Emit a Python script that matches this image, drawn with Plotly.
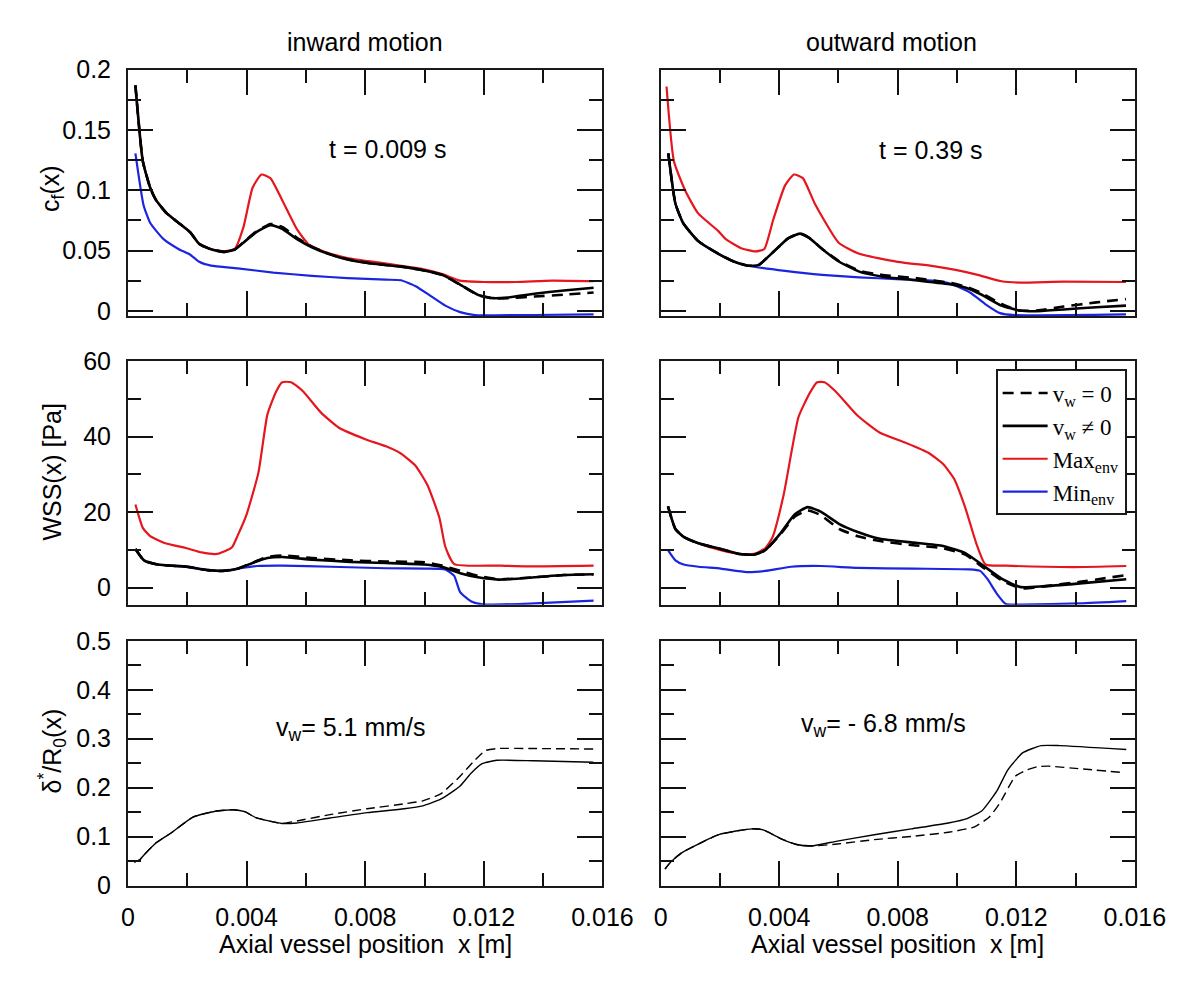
import plotly.graph_objects as go

W, H = 1200, 981

# ---------------- data ----------------
# Top-left: c_f(x), inward motion
cf_in_black_x = [0.00025, 0.0005, 0.00075, 0.00094, 0.0013, 0.0017, 0.0021, 0.0024, 0.0028, 0.00325, 0.0036, 0.0039,
                 0.0043, 0.0048, 0.0052, 0.0057, 0.0062, 0.0068, 0.0074, 0.0082, 0.0092, 0.0099, 0.0106, 0.0112,
                 0.0118, 0.0123, 0.0128, 0.0137, 0.0147, 0.0157]
cf_in_solid_y = [0.187, 0.124, 0.102, 0.092, 0.081, 0.073, 0.065, 0.0555, 0.051, 0.0488, 0.0508, 0.0567,
                 0.0648, 0.071, 0.068, 0.0594, 0.0527, 0.0468, 0.0425, 0.0392, 0.0366, 0.0339, 0.0298, 0.0218,
                 0.0132, 0.0105, 0.011, 0.0142, 0.0169, 0.0191]
cf_in_dash_y = [0.187, 0.124, 0.102, 0.092, 0.081, 0.073, 0.065, 0.0555, 0.051, 0.0488, 0.0508, 0.0570,
                0.0652, 0.0720, 0.0695, 0.0605, 0.0532, 0.0470, 0.0428, 0.0394, 0.0367, 0.0339, 0.0297, 0.0216,
                0.0130, 0.0103, 0.0104, 0.0118, 0.0134, 0.0152]
cf_in_max_x = [0.00025, 0.0005, 0.00075, 0.00094, 0.0013, 0.0017, 0.0021, 0.0024, 0.0028, 0.0032, 0.0036, 0.0039,
               0.0042, 0.0045, 0.0048, 0.0052, 0.0057, 0.0061, 0.0066, 0.0074, 0.0087, 0.0099, 0.0106, 0.0112,
               0.0120, 0.0131, 0.0143, 0.0157]
cf_in_max_y = [0.187, 0.124, 0.102, 0.092, 0.081, 0.073, 0.065, 0.0555, 0.051, 0.0495, 0.0513, 0.070,
               0.102, 0.113, 0.110, 0.0917, 0.0675, 0.0548, 0.0492, 0.0438, 0.0392, 0.0347, 0.0304, 0.025,
               0.0239, 0.0239, 0.025, 0.0245]
cf_in_min_x = [0.00025, 0.000525, 0.00075, 0.0012, 0.0017, 0.0021, 0.0024, 0.0028, 0.0037, 0.0049, 0.0062, 0.0074,
               0.0087, 0.0092, 0.0097, 0.0102, 0.0107, 0.0112, 0.0117, 0.0124, 0.0137, 0.0157]
cf_in_min_y = [0.1306, 0.0876, 0.0728, 0.0594, 0.0513, 0.0465, 0.0406, 0.0374, 0.0352, 0.0317, 0.029, 0.0271,
               0.0258, 0.0253, 0.0204, 0.0124, 0.0043, -0.0011, -0.0036, -0.0037, -0.0035, -0.003]

# Top-right: c_f(x), outward motion
cf_out_black_x = [0.00026, 0.0005, 0.00076, 0.00126, 0.00195, 0.00245, 0.00295, 0.0033, 0.0038, 0.0043, 0.0047,
                  0.005, 0.00545, 0.006, 0.0067, 0.00745, 0.0086, 0.0098, 0.0103, 0.0108, 0.0115, 0.0121,
                  0.0127, 0.0136, 0.0147, 0.0157]
cf_out_solid_y = [0.1306, 0.089, 0.0728, 0.058, 0.0473, 0.0411, 0.0374, 0.0379, 0.0487, 0.060, 0.064,
                  0.0607, 0.0513, 0.0411, 0.0325, 0.0285, 0.0253, 0.0218, 0.0191, 0.0137, 0.0043, 0.0003,
                  -0.0003, 0.0011, 0.003, 0.0043]
cf_out_dash_y = [0.1306, 0.089, 0.0728, 0.058, 0.0473, 0.0411, 0.0374, 0.0379, 0.0487, 0.060, 0.064,
                 0.0607, 0.0513, 0.0415, 0.0333, 0.0298, 0.0271, 0.0231, 0.0200, 0.015, 0.0056, 0.0003,
                 0.0003, 0.0035, 0.007, 0.0097]
cf_out_max_x = [0.0002, 0.00045, 0.00083, 0.00126, 0.00195, 0.0022, 0.0027, 0.0032, 0.0035, 0.0038, 0.0042,
                0.0045, 0.0048, 0.0052, 0.006, 0.0067, 0.008, 0.0092, 0.00995, 0.0107, 0.0115, 0.0121, 0.0136,
                0.0157]
cf_out_max_y = [0.186, 0.124, 0.0997, 0.081, 0.0661, 0.0594, 0.0521, 0.0492, 0.0513, 0.0755, 0.104,
                0.113, 0.110, 0.089, 0.0567, 0.0473, 0.0406, 0.0371, 0.0339, 0.0298, 0.0245, 0.0234, 0.0242,
                0.0239]
cf_out_min_x = [0.00026, 0.0005, 0.00076, 0.00126, 0.00195, 0.00245, 0.00295, 0.0042, 0.00545, 0.0067, 0.00795,
                0.0092, 0.0098, 0.01045, 0.01095, 0.01145, 0.01195, 0.0157]
cf_out_min_y = [0.1306, 0.089, 0.0728, 0.058, 0.0473, 0.0411, 0.0374, 0.0331, 0.0298, 0.0277, 0.0263,
                0.025, 0.0223, 0.015, 0.0056, -0.0019, -0.0036, -0.003]

# Middle-left: WSS(x), inward motion
wss_in_black_x = [0.00025, 0.00054, 0.001, 0.002, 0.0027, 0.0032, 0.0037, 0.0042, 0.0047, 0.0052, 0.0062, 0.0075,
                  0.0087, 0.01, 0.0106, 0.0112, 0.0118, 0.0125, 0.0137, 0.0147, 0.0157]
wss_in_solid_y = [10.2, 7.2, 6.1, 5.5, 4.6, 4.4, 5.0, 6.5, 7.8, 8.1, 7.4, 6.8, 6.5, 6.1, 5.4, 3.8, 2.7, 2.1, 2.7,
                  3.3, 3.5]
wss_in_dash_y = [10.2, 7.2, 6.1, 5.5, 4.6, 4.4, 5.0, 6.6, 8.1, 8.5, 7.8, 7.2, 6.9, 6.7, 5.8, 4.4, 3.1, 2.2, 2.7,
                 3.3, 3.5]
wss_in_max_x = [0.00025, 0.0005, 0.00075, 0.00123, 0.00198, 0.00248, 0.003, 0.0035, 0.0037, 0.004, 0.0044, 0.0047,
                0.005, 0.0052, 0.0055, 0.0059, 0.0065, 0.0071, 0.008, 0.0087, 0.0092, 0.0097, 0.0101, 0.0105,
                0.0107, 0.011, 0.0125, 0.0135, 0.0157]
wss_in_max_y = [22.0, 15.8, 13.6, 11.8, 10.4, 9.3, 8.9, 10.6, 13.8, 19.4, 30.5, 45.8, 52, 54.4, 54.4, 52, 46.4,
                42.4, 39.3, 37.4, 35.5, 32.2, 27.1, 18.5, 10.8, 6.2, 5.8, 5.6, 5.8]
wss_in_min_x = [0.00025, 0.00054, 0.001, 0.002, 0.0027, 0.0032, 0.0037, 0.00435, 0.0052, 0.00685, 0.0087, 0.01,
                0.0107, 0.011, 0.0112, 0.0116, 0.012, 0.0137, 0.0157]
wss_in_min_y = [10.2, 7.2, 6.1, 5.4, 4.6, 4.4, 5.0, 5.7, 5.8, 5.5, 5.1, 5.0, 4.8, 3.1, -1.2, -3.8, -4.5, -4.2,
                -3.5]

# Middle-right: WSS(x), outward motion
wss_out_black_x = [0.00025, 0.0005, 0.00078, 0.00128, 0.00203, 0.00265, 0.00315, 0.00353, 0.00403, 0.00453,
                   0.00496, 0.0054, 0.00603, 0.00665, 0.0074, 0.00853, 0.00953, 0.01028, 0.0109, 0.01153,
                   0.01215, 0.0129, 0.01415, 0.01571]
wss_out_solid_y = [21.5, 15.5, 13.4, 11.7, 10.2, 8.9, 8.7, 9.9, 14.2, 19.4, 21.3, 20.1, 16.8, 14.7, 12.9, 11.9,
                   11.0, 9.1, 5.7, 2.2, 0.1, 0.3, 1.1, 2.2]
wss_out_dash_y = [21.5, 15.5, 13.4, 11.7, 10.2, 8.9, 8.7, 9.9, 14.0, 18.8, 20.4, 19.2, 15.5, 13.6, 12.3, 11.2,
                  10.4, 8.7, 5.2, 1.8, -0.2, 0.3, 1.5, 3.3]
wss_out_max_x = [0.00025, 0.0005, 0.00078, 0.00128, 0.00203, 0.00265, 0.00315, 0.00353, 0.00378, 0.00415, 0.00465,
                 0.00503, 0.00528, 0.00553, 0.0059, 0.00665, 0.0074, 0.00828, 0.00903, 0.00953, 0.0099, 0.01028,
                 0.01065, 0.01096, 0.01165, 0.0139, 0.01571]
wss_out_max_y = [21.5, 15.5, 13.4, 11.7, 9.9, 8.9, 8.9, 10.4, 13.4, 24.5, 45.1, 51.5, 54.4, 54.4, 52, 45.5,
                 41, 38.3, 35.7, 32.7, 28.8, 21.1, 11.7, 6.1, 5.8, 5.4, 5.7]
wss_out_min_x = [0.00025, 0.0005, 0.00078, 0.00128, 0.00203, 0.0029, 0.00353, 0.0044, 0.0054, 0.00665, 0.00853,
                 0.0104, 0.01078, 0.01103, 0.01134, 0.01165, 0.01215, 0.01415, 0.01571]
wss_out_min_y = [9.9, 7.2, 6.1, 5.5, 5.0, 4.1, 4.4, 5.5, 5.7, 5.2, 5.0, 4.8, 4.4, 2.2, -1.6, -4.4, -4.5, -4.2,
                 -3.6]

# Bottom-left: delta*/R0(x), inward motion
dr_in_solid_x = [0.00021, 0.00038, 0.00056, 0.00094, 0.00144, 0.00219, 0.00294, 0.00356, 0.00394, 0.00431,
                 0.00519, 0.00569, 0.00681, 0.00806, 0.00931, 0.00994, 0.01056, 0.01119, 0.01156, 0.01194,
                 0.01244, 0.01369, 0.01569]
dr_in_solid_y = [0.048, 0.052, 0.064, 0.087, 0.107, 0.14, 0.152, 0.155, 0.151, 0.139, 0.127, 0.128, 0.138,
                 0.149, 0.157, 0.163, 0.177, 0.203, 0.229, 0.249, 0.256, 0.255, 0.252]
dr_in_dash_x = [0.00021, 0.00038, 0.00056, 0.00094, 0.00144, 0.00219, 0.00294, 0.00356, 0.00394, 0.00431,
                0.00519, 0.00569, 0.00681, 0.00806, 0.00931, 0.00994, 0.01056, 0.01119, 0.01169, 0.01206,
                0.01244, 0.01369, 0.01569]
dr_in_dash_y = [0.048, 0.052, 0.064, 0.087, 0.107, 0.14, 0.152, 0.155, 0.151, 0.139, 0.127, 0.132, 0.145,
                0.157, 0.167, 0.173, 0.188, 0.223, 0.256, 0.276, 0.28, 0.28, 0.279]

# Bottom-right: delta*/R0(x), outward motion
dr_out_solid_x = [0.00015, 0.00034, 0.00071, 0.00134, 0.00196, 0.00259, 0.00309, 0.00346, 0.00409, 0.00459,
                  0.00509, 0.00596, 0.00721, 0.00846, 0.00971, 0.01034, 0.01084, 0.01134, 0.01171, 0.01221,
                  0.01284, 0.01346, 0.01571]
dr_out_solid_y = [0.034, 0.048, 0.067, 0.087, 0.104, 0.112, 0.116, 0.114, 0.095, 0.084, 0.081, 0.091, 0.104,
                  0.116, 0.128, 0.137, 0.153, 0.193, 0.236, 0.271, 0.286, 0.286, 0.278]
dr_out_dash_x = [0.00015, 0.00034, 0.00071, 0.00134, 0.00196, 0.00259, 0.00309, 0.00346, 0.00409, 0.00459,
                 0.00509, 0.00596, 0.00721, 0.00846, 0.00971, 0.01059, 0.01109, 0.01146, 0.01196, 0.01234,
                 0.01271, 0.01309, 0.01409, 0.01559]
dr_out_dash_y = [0.034, 0.048, 0.067, 0.087, 0.104, 0.112, 0.116, 0.114, 0.095, 0.084, 0.081, 0.085, 0.094,
                 0.1005, 0.109, 0.12, 0.14, 0.17, 0.223, 0.236, 0.243, 0.244, 0.239, 0.231]

x_dtick = 0.004
x_range = [0, 0.016]

# ---------------- styling ----------------
RED = "#e5161d"
BLUE = "#1b25e0"
BLACK = "#000000"
SANS = "Liberation Sans, Arial, sans-serif"
SERIF = "Liberation Serif, Times New Roman, serif"
FS = 25

fig = go.Figure()


def add(x, y, axis, color, width, dash=None, name=None, legend=False, rank=None):
    fig.add_trace(go.Scatter(
        x=x, y=y, mode="lines", xaxis="x" + axis, yaxis="y" + axis,
        line=dict(color=color, width=width, dash=dash, shape="spline", smoothing=0.5),
        name=name, showlegend=legend, legendrank=rank if rank else 1000, hoverinfo="skip"))


DASH_TOP = "11px,7px"
DASH_BOT = "9px,5px"

add(cf_in_max_x, cf_in_max_y, "", RED, 2.2)
add(cf_in_min_x, cf_in_min_y, "", BLUE, 2.2)
add(cf_in_black_x, cf_in_dash_y, "", BLACK, 2.6, DASH_TOP)
add(cf_in_black_x, cf_in_solid_y, "", BLACK, 2.6)
add(cf_out_max_x, cf_out_max_y, "2", RED, 2.2)
add(cf_out_min_x, cf_out_min_y, "2", BLUE, 2.2)
add(cf_out_black_x, cf_out_dash_y, "2", BLACK, 2.6, DASH_TOP)
add(cf_out_black_x, cf_out_solid_y, "2", BLACK, 2.6)
add(wss_in_max_x, wss_in_max_y, "3", RED, 2.2)
add(wss_in_min_x, wss_in_min_y, "3", BLUE, 2.2)
add(wss_in_black_x, wss_in_dash_y, "3", BLACK, 2.6, DASH_TOP)
add(wss_in_black_x, wss_in_solid_y, "3", BLACK, 2.6)
add(wss_out_max_x, wss_out_max_y, "4", RED, 2.2, None, "Max<sub>env</sub>", True, 3)
add(wss_out_min_x, wss_out_min_y, "4", BLUE, 2.2, None, "Min<sub>env</sub>", True, 4)
add(wss_out_black_x, wss_out_dash_y, "4", BLACK, 2.6, DASH_TOP, "v<sub>w</sub> = 0", True, 1)
add(wss_out_black_x, wss_out_solid_y, "4", BLACK, 2.6, None, "v<sub>w</sub> ≠ 0", True, 2)
add(dr_in_dash_x, dr_in_dash_y, "5", BLACK, 1.4, DASH_BOT)
add(dr_in_solid_x, dr_in_solid_y, "5", BLACK, 1.4)
add(dr_out_dash_x, dr_out_dash_y, "6", BLACK, 1.4, DASH_BOT)
add(dr_out_solid_x, dr_out_solid_y, "6", BLACK, 1.4)

# ---------------- layout ----------------
col_px = [(116.7, 606.7), (666.7, 1156.5)]
row_px = [(49, 303), (349, 600), (637, 889)]
yranges = [[-0.0046, 0.2], [-4.6, 60], [0, 0.5]]
ydticks = [0.05, 20, 0.1]


def dom_x(a, b):
    return [a / W, b / W]


def dom_y(a, b):
    return [1 - b / H, 1 - a / H]


TICKC = "#111111"
fig.update_layout(width=W, height=H, margin=dict(l=0, r=0, t=0, b=0), paper_bgcolor="white",
                  plot_bgcolor="white", font=dict(family=SANS, size=FS, color="black"))

for r in range(3):
    for c in range(2):
        i = r * 2 + c + 1
        sfx = "" if i == 1 else str(i)
        fig.update_layout({
            "xaxis" + sfx: dict(
                domain=dom_x(*col_px[c]), range=x_range, anchor="y" + sfx,
                showline=True, linecolor="#1a1a1a", linewidth=2, mirror="ticks",
                ticks="inside", ticklen=25, tickwidth=2, tickcolor=TICKC, dtick=x_dtick, tick0=0,
                minor=dict(ticks="inside", ticklen=13, tickwidth=2, tickcolor=TICKC, dtick=x_dtick / 2),
                showgrid=False, zeroline=False, showticklabels=(r == 2), ticklabelstandoff=8,
                tickfont=dict(family=SANS, size=FS, color="black")),
            "yaxis" + sfx: dict(
                domain=dom_y(*row_px[r]), range=yranges[r], anchor="x" + sfx,
                showline=True, linecolor="#1a1a1a", linewidth=2, mirror="ticks",
                ticks="inside", ticklen=25, tickwidth=2, tickcolor=TICKC, dtick=ydticks[r], tick0=0,
                minor=dict(ticks="inside", ticklen=13, tickwidth=2, tickcolor=TICKC,
                           dtick=ydticks[r] / 2),
                showgrid=False, zeroline=False, showticklabels=(c == 0), ticklabelstandoff=10,
                tickfont=dict(family=SANS, size=FS, color="black")),
        })

fig.update_layout(legend=dict(x=1012.7 / W, y=1 - 357.7 / H, xanchor="left", yanchor="top",
                              bordercolor="#1a1a1a", borderwidth=2, bgcolor="white", itemwidth=45,
                              font=dict(family=SERIF, size=23, color="black"), tracegroupgap=0))


def ann(text, px, py, size=FS, angle=0, family=SANS):
    fig.add_annotation(text=text, x=px / W, y=1 - py / H, xref="paper", yref="paper",
                       showarrow=False, textangle=angle, xanchor="center", yanchor="middle",
                       font=dict(family=family, size=size, color="black"))


ann("inward motion", 361, 21)
ann("outward motion", 905, 21)
ann("t = 0.009 s", 385, 131)
ann("t = 0.39 s", 946, 132)
ann("v<sub>w</sub>= 5.1 mm/s", 346, 728)
ann("v<sub>w</sub>= - 6.8 mm/s", 897, 724)
ann("c<sub>f</sub>(x)", 38, 171, angle=-90)
ann("WSS(x) [Pa]", 38, 463, angle=-90)
ann("δ<sup>*</sup>/R<sub>0</sub>(x)", 38, 750, angle=-90)
ann("Axial vessel position\u00a0 x [m]", 361.7, 949)
ann("Axial vessel position\u00a0 x [m]", 911.6, 949)

fig.write_html("out.html")
